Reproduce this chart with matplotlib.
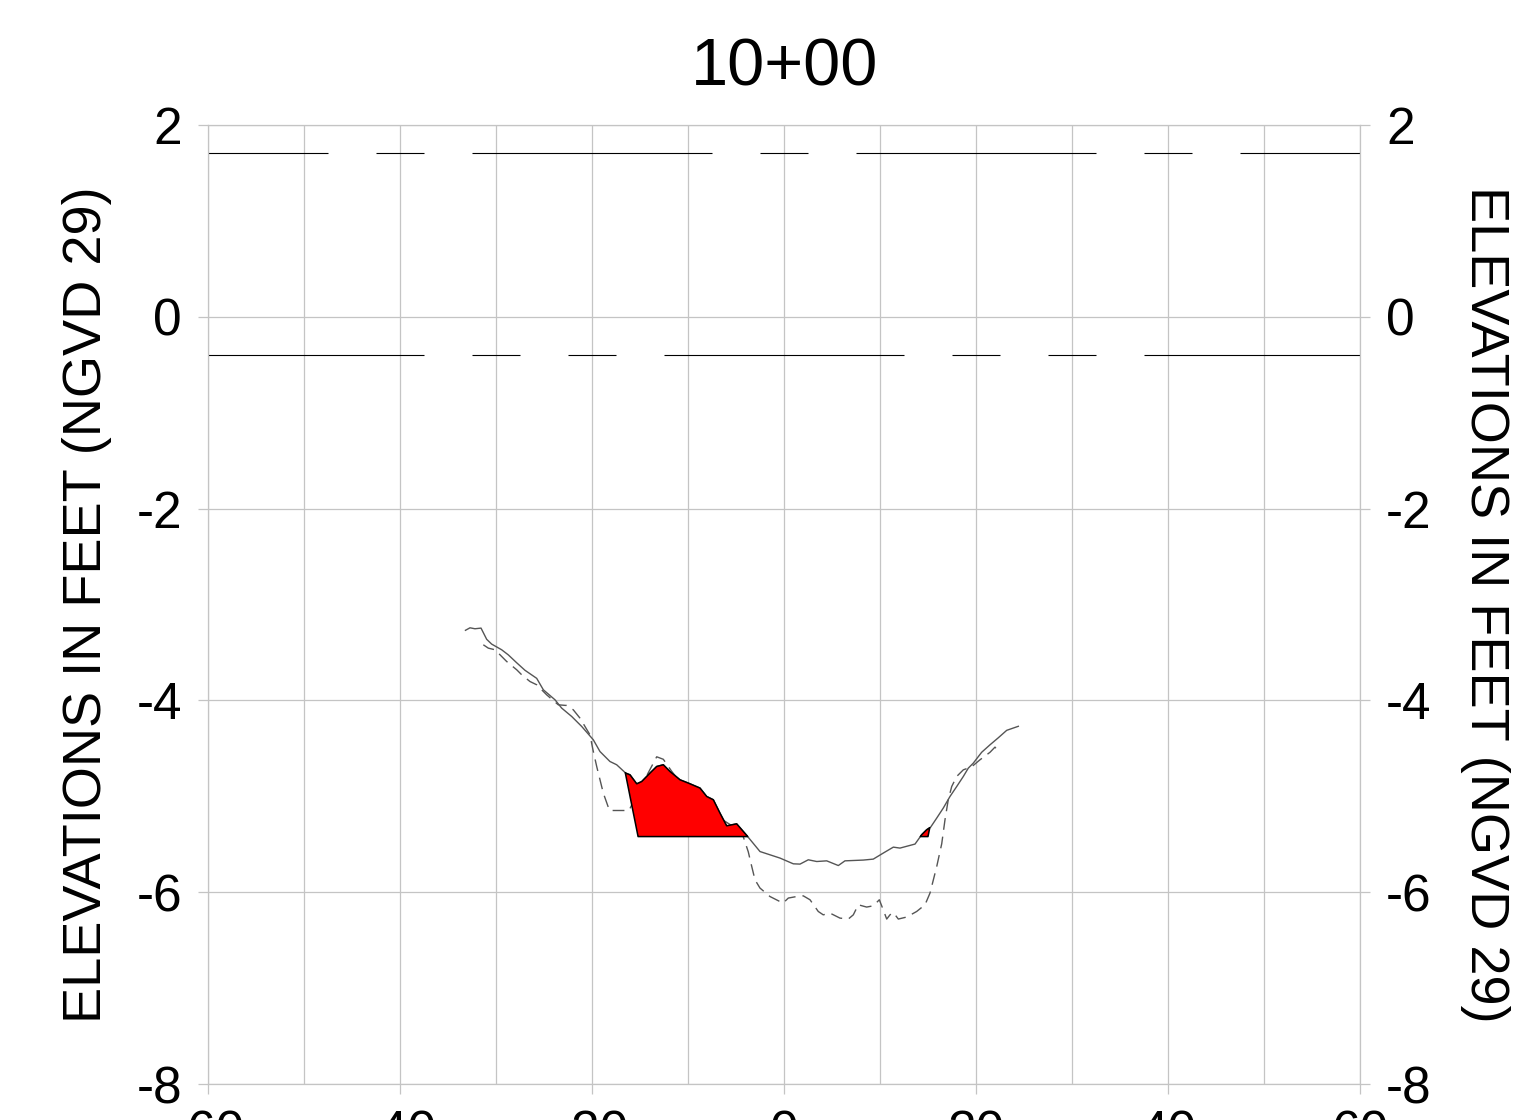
import numpy as np
import matplotlib
matplotlib.use('Agg')
from matplotlib import pyplot as plt

plt.rcParams['font.family'] = ['Liberation Sans', 'DejaVu Sans']
plt.rcParams['lines.scale_dashes'] = False
plt.rcParams['axes.unicode_minus'] = False

station = '10+00'

# existing ground (solid)
ground_x = [-33.18, -32.71, -32.19, -31.56, -30.97, -30.45, -29.41, -28.72, -27.84, -26.98,
            -25.76, -25.07, -23.85, -23.16, -22.11, -21.07, -19.86, -19.17, -18.13, -17.43,
            -16.49, -16.04, -15.34, -14.82, -13.96, -13.26, -12.57, -11.88, -10.83, -9.97,
            -8.75, -8.05, -7.36, -6.67, -5.97, -4.93, -3.89, -2.50, -1.46, -0.42,
            0.97, 1.67, 2.53, 3.41, 4.45, 5.66, 6.35, 8.26, 9.30, 10.34,
            11.39, 12.08, 13.65, 14.34, 14.86, 15.28, 15.91, 16.59, 17.29, 17.99,
            18.68, 19.20, 19.72, 20.59, 21.46, 22.32, 23.20, 24.41]
ground_y = [-3.269, -3.243, -3.253, -3.246, -3.363, -3.413, -3.472, -3.525, -3.608, -3.686,
            -3.770, -3.889, -3.994, -4.080, -4.168, -4.272, -4.411, -4.533, -4.637, -4.671,
            -4.758, -4.776, -4.870, -4.846, -4.758, -4.689, -4.671, -4.741, -4.828, -4.862,
            -4.914, -5.002, -5.036, -5.175, -5.308, -5.287, -5.407, -5.576, -5.610, -5.644,
            -5.704, -5.707, -5.662, -5.680, -5.673, -5.722, -5.673, -5.665, -5.655, -5.592,
            -5.530, -5.540, -5.498, -5.401, -5.349, -5.321, -5.227, -5.123, -5.002, -4.898,
            -4.793, -4.706, -4.654, -4.541, -4.463, -4.390, -4.312, -4.270]

# second survey (dashed)
survey_x = [-31.32, -30.80, -30.10, -28.89, -27.84, -27.32, -26.46, -25.76, -24.72, -23.51,
            -22.64, -21.95, -21.25, -20.73, -20.21, -19.90, -19.51, -18.82, -18.18, -16.15,
            -14.69, -13.26, -12.57, -11.70, -9.79, -7.19, -5.10, -4.24, -3.72, -3.36,
            -3.02, -2.50, -1.46, -0.10, 0.45, 1.32, 2.01, 2.71, 3.57, 4.09,
            4.79, 5.83, 6.70, 7.22, 7.74, 8.61, 9.30, 9.93, 10.34, 10.70,
            11.04, 11.39, 11.91, 12.78, 13.82, 14.69, 15.21, 15.91, 16.43, 16.77,
            17.11, 17.47, 17.99, 18.68, 19.55, 20.42, 21.46, 21.98, 22.32]
survey_y = [-3.420, -3.455, -3.472, -3.594, -3.681, -3.733, -3.803, -3.837, -3.942, -4.046,
            -4.053, -4.098, -4.185, -4.272, -4.359, -4.515, -4.689, -4.967, -5.148, -5.148,
            -4.859, -4.588, -4.614, -4.739, -4.984, -5.193, -5.328, -5.422, -5.579, -5.732,
            -5.871, -5.957, -6.045, -6.114, -6.061, -6.045, -6.038, -6.079, -6.201, -6.236,
            -6.218, -6.270, -6.280, -6.236, -6.131, -6.155, -6.142, -6.079, -6.184, -6.280,
            -6.236, -6.212, -6.280, -6.259, -6.201, -6.131, -6.009, -5.732, -5.495, -5.245,
            -5.036, -4.898, -4.793, -4.724, -4.692, -4.619, -4.541, -4.487, -4.533]

# design template
bottom_elev = -5.42
toe_left = -15.2
toe_right = 15.0
side_slope = 2.0

# tide levels
mhw = 1.71
mlw = -0.40

fig = plt.figure(figsize=(15.35, 11.2), dpi=100)
ax = fig.add_axes([0.1355, 0.03214, 0.75049, 0.85625])

grid_c = '#c4c4c4'
ax.set_xlim(-60, 60)
ax.set_ylim(-8, 2)
ax.set_xticks(np.arange(-60, 61, 20))
ax.set_xticks(np.arange(-50, 60, 20), minor=True)
ax.set_yticks(np.arange(-8, 3, 2))
ax.grid(True, which='both', color=grid_c, lw=0.9)
for s in ax.spines.values():
    s.set_color(grid_c)
    s.set_linewidth(0.9)
ax.tick_params(which='major', direction='out', length=7.2, width=0.9, color=grid_c,
               labelsize=37, pad=11.5, right=True, labelright=True)
ax.tick_params(which='minor', length=0)

# tide lines
ax.plot([-60, 60], [mhw, mhw], color='black', lw=0.8,
        linestyle=(86.4, (172.8, 34.56, 34.56, 34.56)))
ax.plot([-60, 60], [mlw, mlw], color='black', lw=0.8,
        linestyle=(17.28, (172.8, 34.56, 34.56, 34.56, 34.56, 34.56)))

ax.plot(ground_x, ground_y, color='#555555', lw=1.0, zorder=2)
ax.plot(survey_x, survey_y, color='#555555', lw=1.0, dashes=(8.5, 5), zorder=2)

# cut area: ground above template
xx = np.union1d(np.linspace(min(ground_x), max(ground_x), 2000), [toe_left, toe_right])
gy = np.interp(xx, ground_x, ground_y)
ty = np.maximum(bottom_elev, np.maximum(bottom_elev + (toe_left - xx) / side_slope,
                                        bottom_elev + (xx - toe_right) / side_slope))
ax.fill_between(xx, gy, ty, where=gy > ty, interpolate=True,
                facecolor='#ff0000', edgecolor='black', lw=1.1, zorder=3)

fig.text(0.5108, 0.924, station, fontsize=48, ha='center', va='baseline')
fig.text(0.0565, 0.4603, 'ELEVATIONS IN FEET (NGVD 29)', fontsize=39,
         rotation=90, ha='center', va='center')
fig.text(0.9674, 0.4603, 'ELEVATIONS IN FEET (NGVD 29)', fontsize=39,
         rotation=270, ha='center', va='center')

fig.savefig('out.png', dpi=100)
